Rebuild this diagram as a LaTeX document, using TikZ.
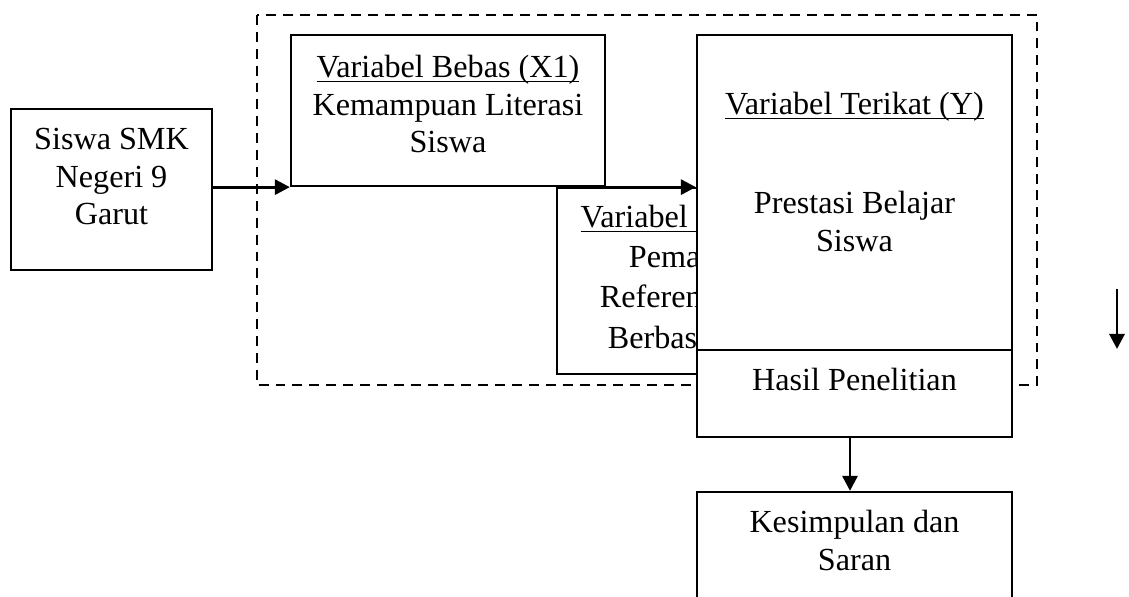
\documentclass[tikz,border=0pt]{standalone}
\usepackage{fontspec}
\setmainfont{Liberation Serif}
\usetikzlibrary{positioning,fit,arrows.meta}

\newcommand{\ulvar}[1]{\underline{\smash{#1}}}

\begin{document}
\begin{tikzpicture}[
		x=0.01311cm, y=-0.01311cm,
		every node/.style={inner sep=0pt, font=\fontsize{12}{14}\selectfont},
		box/.style={draw, line width=0.85pt, fill=white},
		txt/.style={align=center, anchor=north},
		arr/.style={-{Triangle[length=5.6pt,width=5.6pt]}, line width=1.1pt}
		]
		\useasboundingbox (0,0) rectangle (1129,597);
		% dashed frame
		\draw[line width=0.8pt, dash pattern=on 3.7pt off 2.6pt] (257,15) rectangle (1037,385);
		
		\node[box, fit={(11,109) (212,270)}] (siswa) {};
		\node[txt] (siswaT) at (111.5,122.7) {\strut Siswa SMK\\Negeri 9\\Garut};
		
		\node[box, fit={(291,35) (605,186)}] (xone) {};
		\node[txt] (xoneT) at (448,50.7) {\strut\ulvar{Variabel Bebas (X1)}\\Kemampuan Literasi\\Siswa};
		
		\node[box, fit={(557,188) (868,374)}] (xtwo) {};
		\node[txt, font=\fontsize{12}{15}\selectfont] (xtwoT) at (712,198.7) {\strut\ulvar{Variabel Bebas (X2)}\\Pemanfaatan\\Referensi Belajar\\Berbasis Digital};
		
		\node[box, fit={(697,35) (1012,350)}] (yvar) {};
		\node[txt] (yvarT) at (854.5,87.7) {\strut\ulvar{Variabel Terikat (Y)}};
		\node[txt] (yvarS) at (854.5,186.7) {\strut Prestasi Belajar\\Siswa};
		
		\node[box, fit={(697,350) (1012,437)}] (hasil) {};
		\node[txt] (hasilT) at (854.5,363.7) {\strut Hasil Penelitian};
		
		\node[box, fit={(697,492) (1012,640)}] (simpul) {};
		\node[txt] (simpulT) at (854.5,505.7) {\strut Kesimpulan dan\\Saran};
		
		\coordinate (lepasA) at (1117,289);
		\coordinate (lepasB) at (1117,349);
		
		% arrows
		\draw[arr] (siswa.east |- xone.south west) -- (xone.south west);
		\draw[arr] (xone.south east) -- (yvar.west |- xone.south east);
		\draw[arr] (hasil.south -| 850,0) -- (simpul.north -| 850,0);
		\draw[arr] (lepasA) -- (lepasB);
\end{tikzpicture}
\end{document}
